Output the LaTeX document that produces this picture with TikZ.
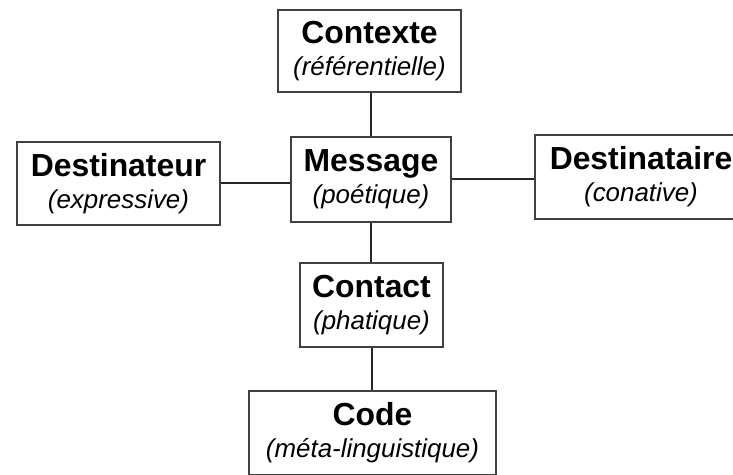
\documentclass[tikz,border=0pt]{standalone}
\usepackage{fontspec}
\setmainfont{Liberation Sans}
\begin{document}
\begin{tikzpicture}[x=1bp,y=-1bp,
  fbox/.style={draw=black!75,line width=1.2bp,rectangle,align=center,inner sep=0pt,
    font=\fontsize{26}{32}\selectfont},
  link/.style={draw=black!85,line width=2bp}]
\newcommand{\ttl}[1]{{\fontsize{32}{32}\selectfont\bfseries #1}}
\newcommand{\sub}[1]{{\itshape #1}}
\useasboundingbox[fill=white] (0,0) rectangle (733,475);
\node[fbox,minimum width=183bp,minimum height=82bp] (ctx) at (369.5,51) {\ttl{Contexte}\\\sub{(référentielle)}};
\node[fbox,minimum width=160bp,minimum height=85bp] (msg) at (371,179.5) {\ttl{Message}\\\sub{(poétique)}};
\node[fbox,minimum width=203bp,minimum height=83bp] (dtr) at (118.5,183.5) {\ttl{Destinateur}\\\sub{(expressive)}};
\node[fbox,minimum width=212bp,minimum height=84bp] (dta) at (641,177) {\ttl{Destinataire}\\\sub{(conative)}};
\node[fbox,minimum width=143bp,minimum height=84bp] (cnt) at (371.5,305) {\ttl{Contact}\\\sub{(phatique)}};
\node[fbox,minimum width=247bp,minimum height=84bp] (cod) at (372.5,433) {\ttl{Code}\\\sub{(méta-linguistique)}};
\draw[link] (msg.north) -- (msg.north |- ctx.south);
\draw[link] (dtr.east) -- (dtr.east -| msg.west);
\draw[link] (msg.east) -- (msg.east -| dta.west);
\draw[link] (msg.south) -- (msg.south |- cnt.north);
\draw[link] (cnt.south) -- (cnt.south |- cod.north);
\end{tikzpicture}
\end{document}
